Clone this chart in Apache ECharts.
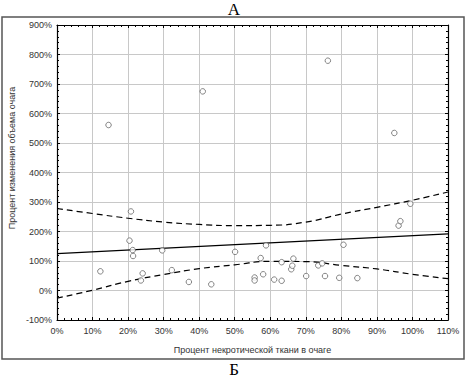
<!DOCTYPE html>
<html>
<head>
<meta charset="utf-8">
<script src="https://cdn.jsdelivr.net/npm/echarts@6/dist/echarts.min.js"></script>
<style>
  html, body { margin: 0; padding: 0; background: #fff; }
  #chart { width: 467px; height: 378px; }
</style>
</head>
<body>
<div id="chart"></div>
<script>
// --- data ---
var necrosisPct = [12.2, 14.5, 20.4, 20.8, 21.3, 21.4, 23.6, 24.1, 29.6, 32.3, 37.1, 41.0, 43.4, 50.1,
  55.6, 55.6, 57.3, 58.0, 58.8, 61.1, 63.2, 63.2, 65.9, 66.2, 66.5, 70.1, 73.5, 74.6, 75.4, 76.2,
  79.4, 80.6, 84.5, 94.9, 96.1, 96.6, 99.4];
var volumeChangePct = [65, 561, 169, 268, 137, 117, 34, 58, 136, 69, 29, 675, 21, 131,
  44, 34, 110, 55, 153, 37, 33, 96, 72, 84, 108, 49, 85, 92, 49, 779,
  43, 155, 42, 534, 220, 235, 294];

var fitX = [0, 110];
var fitY = [125, 192];

var bandX = [0, 10, 20, 30, 40, 50, 60, 70, 80, 90, 100, 110];
var upperBand = [278, 261, 245, 232, 224, 220, 221, 232, 259, 282, 306, 334];
var lowerBand = [-26, 1, 31, 54, 74, 87, 99, 98, 85, 73, 55, 40];

var xLabel = 'Процент некротической ткани в очаге';
var yLabel = 'Процент изменения объема очага';

function pairs(xs, ys) {
  return xs.map(function(x, i) { return [x, ys[i]]; });
}

var chart = echarts.init(document.getElementById('chart'), null, { renderer: 'svg' });

var tickFont = { fontFamily: 'Liberation Sans', fontSize: 9, color: '#333' };
var gridLine = { show: true, lineStyle: { color: '#c8c8c8', width: 1 } };

function xAxisDef(pos, labels) {
  return {
    type: 'value', position: pos, min: 0, max: 110, interval: 10,
    axisLine: { show: true, onZero: false, lineStyle: { color: '#000', width: 1.2 } },
    axisTick: { show: true, inside: true, length: 3, lineStyle: { color: '#000' } },
    minorTick: { show: true, splitNumber: 5, length: 2, lineStyle: { color: '#000' } },
    splitLine: labels ? gridLine : { show: false },
    axisLabel: labels ? Object.assign({ formatter: '{value}%', margin: 6 }, tickFont) : { show: false },
    name: labels ? xLabel : '',
    nameLocation: 'middle',
    nameGap: 25,
    nameTextStyle: { fontFamily: 'Liberation Sans', fontSize: 9, color: '#333' }
  };
}

function yAxisDef(pos, labels) {
  return {
    type: 'value', position: pos, min: -100, max: 900, interval: 100,
    axisLine: { show: true, onZero: false, lineStyle: { color: '#000', width: 1.2 } },
    axisTick: { show: true, inside: true, length: 3, lineStyle: { color: '#000' } },
    minorTick: { show: true, splitNumber: 5, length: 2, lineStyle: { color: '#000' } },
    splitLine: labels ? gridLine : { show: false },
    axisLabel: labels ? Object.assign({ formatter: '{value}%', margin: 5 }, tickFont) : { show: false }
  };
}

chart.setOption({
  animation: false,
  backgroundColor: '#fff',
  grid: { left: 57, right: 19, top: 25, bottom: 58 },
  xAxis: [xAxisDef('bottom', true), xAxisDef('top', false)],
  yAxis: [yAxisDef('left', true), yAxisDef('right', false)],
  graphic: [
    { type: 'rect', shape: { x: 2, y: 17, width: 462, height: 342 },
      style: { fill: 'none', stroke: '#555', lineWidth: 1.5 }, silent: true },
    { type: 'text', x: 234, y: 1,
      style: { text: 'А', font: '17px "Liberation Serif"', fill: '#000', align: 'center', verticalAlign: 'top' } },
    { type: 'text', x: 234, y: 361,
      style: { text: 'Б', font: '17px "Liberation Serif"', fill: '#000', align: 'center', verticalAlign: 'top' } },
    { type: 'text', x: 12, y: 158, rotation: Math.PI / 2,
      style: { text: yLabel, font: '9px "Liberation Sans"', fill: '#333', align: 'center', verticalAlign: 'middle' } }
  ],
  series: [
    {
      type: 'line', data: pairs(fitX, fitY), showSymbol: false,
      lineStyle: { color: '#000', width: 1.2 }, z: 3
    },
    {
      type: 'line', data: pairs(bandX, upperBand), showSymbol: false, smooth: true,
      lineStyle: { color: '#000', width: 1.2, type: [6, 4] }, z: 3
    },
    {
      type: 'line', data: pairs(bandX, lowerBand), showSymbol: false, smooth: true,
      lineStyle: { color: '#000', width: 1.2, type: [6, 4] }, z: 3
    },
    {
      type: 'scatter', data: pairs(necrosisPct, volumeChangePct),
      symbol: 'circle', symbolSize: 5.5,
      itemStyle: { color: '#fff', borderColor: '#555', borderWidth: 0.9 }, z: 4
    }
  ]
});
</script>
</body>
</html>
